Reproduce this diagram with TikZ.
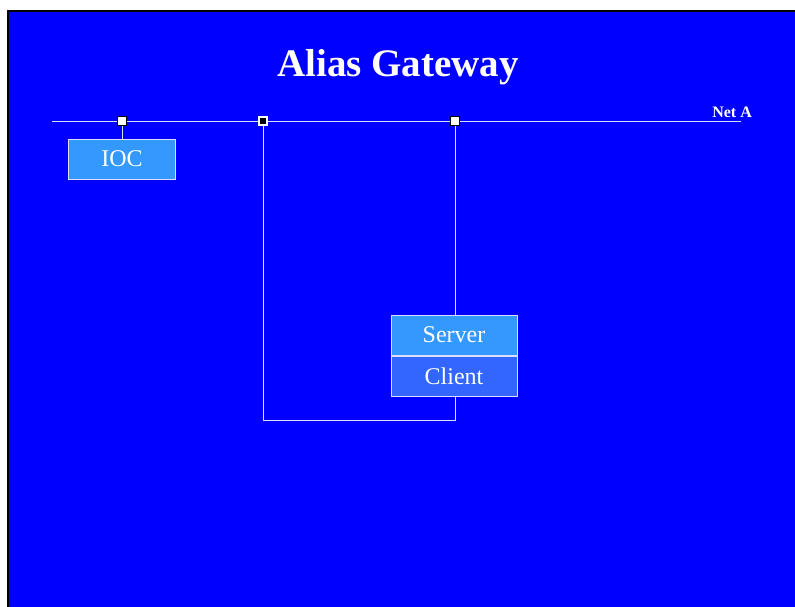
\documentclass[tikz,border=0pt]{standalone}
\usepackage{fontspec}
\setmainfont{Liberation Serif}
\usetikzlibrary{positioning,calc}
\definecolor{slideblue}{HTML}{0000FF}
\definecolor{boxblue}{HTML}{3399FF}
\definecolor{clientblue}{HTML}{3366FF}
\definecolor{edgewhite}{HTML}{DDDDFF}

\begin{document}
\begin{tikzpicture}[x=1pt,y=-1pt,
    host/.style={rectangle,draw=edgewhite,line width=1pt,fill=boxblue,text=white,
      minimum width=107pt,minimum height=40pt,inner sep=0pt,font=\fontsize{24}{26}\selectfont},
    tap/.style={rectangle,draw=black,fill=white,line width=1.2pt,minimum size=9pt,inner sep=0pt},
    wire/.style={draw=edgewhite,line width=1pt}]
    \useasboundingbox (0,0) rectangle (795,606);
    \fill[white] (0,0) rectangle (795,606);
    \draw[fill=slideblue,draw=black,line width=1.5pt] (8,11) rectangle (800,612);
    \node[text=white,font=\bfseries\fontsize{39}{41}\selectfont](title) at (398,67){Alias Gateway};
    \coordinate (netL) at (52,121);
    \coordinate (netR) at (741,121);
    \path[wire] (netL) -- (netR);
    \node[text=white,font=\bfseries\fontsize{16}{17}\selectfont,anchor=south east,inner sep=1pt](netA) at (753,119){Net A};
    \node[tap](tapA) at (122,121){};
    \node[tap,fill=black,draw=white,minimum size=8pt](tapB) at (263,121){};
    \node[tap](tapC) at (455,121){};
    \node[host](ioc) at (122,159){IOC};
    \node[host,minimum width=126pt](server) at (454,335){Server};
    \node[host,minimum width=126pt,fill=clientblue](client)[below=0pt of server]{Client};
    \coordinate (loop) at (455,420);
    \path[wire] (tapA) -- (ioc);
    \path[wire] (tapC) -- (tapC |- server.north);
    \path[wire] (tapB) |- (loop) -- (client.south -| loop);
\end{tikzpicture}
\end{document}
